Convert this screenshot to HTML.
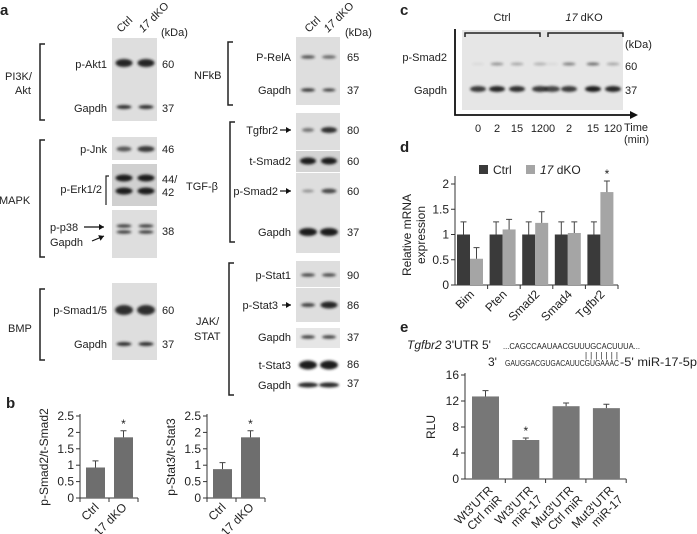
<!DOCTYPE html>
<html><head><meta charset="utf-8"><style>
html,body{margin:0;padding:0;background:#fff;}
svg{display:block;font-family:"Liberation Sans",sans-serif;}
text{fill:#222;}
</style></head><body>
<svg id="fig" width="697" height="534" viewBox="0 0 697 534">
<defs><filter id="bl" x="-20%" y="-80%" width="140%" height="260%"><feGaussianBlur stdDeviation="1.3"/></filter></defs>
<g id="blots"></g>
<g id="charts"></g>
</svg>
<script>
// Panel b data
const bCats = ["Ctrl", "17 dKO"];
const bSmadVals = [0.93, 1.85];
const bSmadErr = [0.2, 0.2];
const bStatVals = [0.88, 1.85];
const bStatErr = [0.2, 0.2];
const bTicks = [0, 0.5, 1, 1.5, 2, 2.5];
const bTickLabels = ["0", "0.5", "1", "1.5", "2", "2.5"];
// Panel d data
const dCats = ["Bim", "Pten", "Smad2", "Smad4", "Tgfbr2"];
const dCtrl = [1, 1, 1, 1, 1];
const dCtrlErr = [0.25, 0.25, 0.25, 0.25, 0.25];
const dKO = [0.52, 1.1, 1.23, 1.03, 1.84];
const dKOErr = [0.22, 0.2, 0.22, 0.22, 0.22];
const dTicks = [0, 0.5, 1, 1.5, 2];
const dTickLabels = ["0", "0.5", "1", "1.5", "2"];
// Panel e data
const eCats = [["Wt3'UTR", "Ctrl miR"], ["Wt3'UTR", "miR-17"], ["Mut3'UTR", "Ctrl miR"], ["Mut3'UTR", "miR-17"]];
const eVals = [12.7, 6.0, 11.2, 10.9];
const eErr = [0.9, 0.3, 0.5, 0.6];
const eTicks = [0, 4, 8, 12, 16];
const eTickLabels = ["0", "4", "8", "12", "16"];

const NS = "http://www.w3.org/2000/svg";
function mk(parent, tag, attrs, txt) {
  const e = document.createElementNS(NS, tag);
  for (const k in attrs) e.setAttribute(k, attrs[k]);
  if (txt !== undefined) e.textContent = txt;
  parent.appendChild(e);
  return e;
}
const B = document.getElementById('blots');
const C = document.getElementById('charts');

function label(x, y, t, size, anchor, extra) {
  const e = mk(B, 'text', Object.assign({x: x, y: y, 'font-size': size || 11, 'text-anchor': anchor || 'start'}, extra || {}), t);
  
  
  return e;
}
function box(x, y, w, h, fill) {
  const e = mk(B, 'rect', {x: x, y: y, width: w, height: h, fill: fill || '#dedede'});
  
  
}
function band(cx, cy, w, h, op) {
  const e = mk(B, 'ellipse', {cx: cx, cy: cy, rx: w / 2, ry: h / 2, fill: '#1e1e1e', opacity: op, filter: 'url(#bl)'});
  
  
}
function bracket(x, y1, y2) {
  const e = mk(B, 'path', {d: `M${x + 5} ${y1} H${x} V${y2} H${x + 5}`, fill: 'none', stroke: '#222', 'stroke-width': 1.5});
  
  
}
function arrow(x1, y1, x2, y2) {
  const e = mk(B, 'line', {x1: x1, y1: y1, x2: x2, y2: y2, stroke: '#111', 'stroke-width': 1.2});
  
  
  const a = Math.atan2(y2 - y1, x2 - x1);
  const p = mk(B, 'polygon', {points: `${x2},${y2} ${x2 - 5 * Math.cos(a) + 3 * Math.sin(a)},${y2 - 5 * Math.sin(a) - 3 * Math.cos(a)} ${x2 - 5 * Math.cos(a) - 3 * Math.sin(a)},${y2 - 5 * Math.sin(a) + 3 * Math.cos(a)}`, fill: '#111'});
  
  
}

// Panel letters
[["a", 0, 15], ["b", 6, 408], ["c", 400, 15], ["d", 400, 152], ["e", 400, 332]].forEach(p => {
  label(p[1], p[2], p[0], 15, 'start', {'font-weight': 'bold'});
});

// ===== Panel a left column =====
const L1 = 124, L2 = 146;
label(121, 33, "Ctrl", 11, 'start', {transform: 'rotate(-45 121 33)'});
const h1 = label(143, 33, "", 11, 'start', {transform: 'rotate(-45 143 33)'});
mk(h1, 'tspan', {'font-style': 'italic'}, '17');
mk(h1, 'tspan', {}, ' dKO');
label(161, 36, "(kDa)", 11);
box(112, 38, 45, 83);
band(L1, 63, 17, 8, 0.95); band(L2, 63, 17, 8, 0.95);
band(L1, 107, 15, 4, 0.9); band(L2, 107, 15, 4, 0.9);
label(107, 68, "p-Akt1", 11, 'end'); label(162, 68, "60", 11);
label(107, 112, "Gapdh", 11, 'end'); label(162, 112, "37", 11);
bracket(40, 44, 120);
label(5, 80, "PI3K/", 11); label(15, 94, "Akt", 11);
box(112, 137, 45, 23);
band(L1, 149, 15, 5, 0.7); band(L2, 149, 17, 6, 0.85);
label(107, 153, "p-Jnk", 11, 'end'); label(162, 153, "46", 11);
box(112, 164, 45, 42, '#d0d0d0');
band(L1, 178, 17, 7, 1); band(L2, 178, 17, 7, 1);
band(L1, 191, 17, 7, 1); band(L2, 191, 17, 7, 1);
mk(B, 'path', {d: 'M109 176 H106 V205', fill: 'none', stroke: '#222', 'stroke-width': 1.2});
label(102, 193, "p-Erk1/2", 11, 'end'); label(162, 183, "44/", 11); label(162, 196, "42", 11);
box(112, 210, 45, 48);
band(L1, 226, 15, 3.5, 0.8); band(L2, 226, 15, 3.5, 0.8);
band(L1, 232, 15, 3.5, 0.8); band(L2, 232, 15, 3.5, 0.8);
label(50, 231, "p-p38", 11); arrow(84, 227, 104, 227);
label(50, 246, "Gapdh", 11); arrow(92, 241, 104, 236);
label(162, 235, "38", 11);
bracket(40, 140, 257);
label(-1, 204, "MAPK", 11);
box(112, 283, 45, 77);
band(L1, 310, 18, 10, 0.9); band(L2, 310, 18, 10, 0.9);
band(L1, 344, 15, 4, 0.9); band(L2, 344, 15, 4, 0.9);
label(107, 314, "p-Smad1/5", 11, 'end'); label(162, 314, "60", 11);
label(107, 348, "Gapdh", 11, 'end'); label(162, 348, "37", 11);
bracket(40, 289, 360);
label(8, 332, "BMP", 11);

// ===== Panel a right column =====
const R1 = 308, R2 = 329;
label(309, 33, "Ctrl", 11, 'start', {transform: 'rotate(-45 309 33)'});
const h2 = label(328, 33, "", 11, 'start', {transform: 'rotate(-45 328 33)'});
mk(h2, 'tspan', {'font-style': 'italic'}, '17');
mk(h2, 'tspan', {}, ' dKO');
label(345, 36, "(kDa)", 11);
box(296, 37, 44, 68);
band(R1, 57, 14, 3.5, 0.7); band(R2, 57, 14, 3.5, 0.6);
band(R1, 90, 14, 3.5, 0.85); band(R2, 90, 13, 3, 0.85);
label(291, 61, "P-RelA", 11, 'end'); label(347, 61, "65", 11);
label(291, 94, "Gapdh", 11, 'end'); label(347, 94, "37", 11);
bracket(228, 42, 105);
label(194, 79, "NFkB", 11);
box(296, 113, 44, 37);
band(R1, 130, 12, 4, 0.55); band(R2, 130, 16, 6, 0.9);
label(278, 134, "Tgfbr2", 11, 'end'); arrow(280, 130, 291, 130);
label(347, 134, "80", 11);
box(296, 151, 44, 21, '#d4d4d4');
band(R1, 161, 16, 7, 1); band(R2, 161, 16, 7, 1);
label(291, 165, "t-Smad2", 11, 'end'); label(347, 165, "60", 11);
box(296, 173, 44, 80);
band(R1, 191, 12, 3, 0.4); band(R2, 191, 15, 4.5, 0.8);
label(278, 195, "p-Smad2", 11, 'end'); arrow(280, 191, 291, 191);
label(347, 195, "60", 11);
band(R1, 232, 18, 8, 1); band(R2, 232, 18, 8, 1);
label(291, 236, "Gapdh", 11, 'end'); label(347, 236, "37", 11);
bracket(230, 122, 242);
label(186, 190, "TGF-β", 11);
box(296, 261, 44, 26);
band(R1, 275, 14, 3.5, 0.75); band(R2, 275, 14, 3.5, 0.75);
label(291, 279, "p-Stat1", 11, 'end'); label(347, 279, "90", 11);
box(296, 288, 44, 34);
band(R1, 305, 14, 4, 0.8); band(R2, 305, 17, 7, 0.95);
label(278, 309, "p-Stat3", 11, 'end'); arrow(282, 305, 291, 305);
label(347, 309, "86", 11);
box(296, 328, 44, 20, '#e6e6e6');
band(R1, 337, 14, 3.5, 0.8); band(R2, 337, 14, 3.5, 0.8);
label(291, 341, "Gapdh", 11, 'end'); label(347, 341, "37", 11);
band(R1, 365, 18, 9, 1); band(R2, 365, 18, 9, 1);
label(291, 369, "t-Stat3", 11, 'end'); label(347, 368, "86", 11);
band(R1, 385, 20, 5, 0.95); band(R2, 385, 20, 5, 0.95);
label(291, 389, "Gapdh", 11, 'end'); label(347, 387, "37", 11);
bracket(229, 263, 395);
label(196, 325, "JAK/", 11); label(194, 340, "STAT", 11);

// ===== Panel c =====
const cLanes = [478, 497, 517, 540, 552, 569, 593, 613];
const cTimes = ["0", "2", "15", "120", "0", "2", "15", "120"];
const c60 = [0.05, 0.4, 0.3, 0.25, 0.05, 0.5, 0.6, 0.3];
const c37 = [0.85, 0.95, 0.9, 0.85, 0.8, 0.85, 1, 0.95];
box(462, 30, 161, 80, '#e6e6e6');
label(502, 21, "Ctrl", 11, 'middle');
const h3 = label(584, 21, "", 11, 'middle');
mk(h3, 'tspan', {'font-style': 'italic'}, '17');
mk(h3, 'tspan', {}, ' dKO');
mk(B, 'path', {d: 'M465 37 V33 H540 V37 M548 37 V33 H623 V37', fill: 'none', stroke: '#222', 'stroke-width': 1.5});
cLanes.forEach((x, i) => {
  band(x, 64, 13, 3, c60[i]);
  band(x, 89, 16, 6, c37[i]);
  label(x, 132, cTimes[i], 11, 'middle');
});
mk(B, 'path', {d: 'M455 29 V115 H632', fill: 'none', stroke: '#111', 'stroke-width': 1.8});
mk(B, 'polygon', {points: '638,115 630,111 630,119', fill: '#111'});
label(447, 61, "p-Smad2", 11, 'end');
label(447, 94, "Gapdh", 11, 'end');
label(625, 48, "(kDa)", 11); label(625, 70, "60", 11); label(625, 94, "37", 11);
label(624, 131, "Time", 11); label(624, 143, "(min)", 11);

// ===== bar chart helper =====
function axisY(x0, y0, yTop, vmax, ticks, labels, size) {
  const sc = v => y0 - (v / vmax) * (y0 - yTop);
  const ax = mk(C, 'line', {x1: x0, y1: y0, x2: x0, y2: yTop - 2, stroke: '#333', 'stroke-width': 1});
  
  
  ticks.forEach((t, i) => {
    mk(C, 'line', {x1: x0 - 4, x2: x0, y1: sc(t), y2: sc(t), stroke: '#333'});
    const tl = mk(C, 'text', {x: x0 - 6, y: sc(t) + 4, 'font-size': size || 12, 'text-anchor': 'end'}, labels[i]);
    
    
  });
  return sc;
}
function bar(x, w, y0, sc, v, err, fill) {
  const r = mk(C, 'rect', {x: x, y: sc(v), width: w, height: y0 - sc(v), fill: fill});
  
  
  const cx = x + w / 2;
  mk(C, 'path', {d: `M${cx} ${sc(v)} V${sc(v + err)} M${cx - 3} ${sc(v + err)} H${cx + 3}`, stroke: '#444', 'stroke-width': 1, fill: 'none'});
  return cx;
}
function star(x, y) {
  const s = mk(C, 'text', {x: x, y: y, 'font-size': 12, 'text-anchor': 'middle'}, '*');
  
  
}

// ===== Panel b =====
function bChart(x0, vals, errs, ylab) {
  const y0 = 498, yTop = 416;
  const sc = axisY(x0, y0, yTop, 2.5, bTicks, bTickLabels, 12);
  mk(C, 'line', {x1: x0, x2: x0 + 58, y1: y0, y2: y0, stroke: '#333'});
  [0, 29, 58].forEach(d => mk(C, 'line', {x1: x0 + d, x2: x0 + d, y1: y0, y2: y0 + 4, stroke: '#333'}));
  vals.forEach((v, i) => {
    const cx = bar(x0 + 6 + i * 28, 19, y0, sc, v, errs[i], '#6e6e6e');
    if (i === 1) star(cx, sc(v + errs[i]) - 3);
    const t = mk(C, 'text', {x: cx + 4, y: y0 + 10, 'font-size': 12, 'text-anchor': 'end', transform: `rotate(-45 ${cx + 4} ${y0 + 10})`}, bCats[i]);
    
    
  });
  const yl = mk(C, 'text', {x: x0 - 32, y: 457, 'font-size': 12, 'text-anchor': 'middle', transform: `rotate(-90 ${x0 - 32} 457)`}, ylab);
  
  
}
bChart(80, bSmadVals, bSmadErr, "p-Smad2/t-Smad2");
bChart(207, bStatVals, bStatErr, "p-Stat3/t-Stat3");

// ===== Panel d =====
(function () {
  const x0 = 455, y0 = 285, yTop = 184;
  const sc = v => y0 - (v / 2) * (y0 - yTop);
  const ax = mk(C, 'line', {x1: x0, y1: y0, x2: x0, y2: yTop - 8, stroke: '#333'});
  
  
  dTicks.forEach((t, i) => {
    mk(C, 'line', {x1: x0 - 4, x2: x0, y1: sc(t), y2: sc(t), stroke: '#333'});
    const tl = mk(C, 'text', {x: x0 - 6, y: sc(t) + 4, 'font-size': 12, 'text-anchor': 'end'}, dTickLabels[i]);
    
    
  });
  const gw = 32.6;
  mk(C, 'line', {x1: x0, x2: x0 + gw * 5, y1: y0, y2: y0, stroke: '#333'});
  dCats.forEach((c, i) => {
    mk(C, 'line', {x1: x0 + gw * (i + 1), x2: x0 + gw * (i + 1), y1: y0, y2: y0 + 4, stroke: '#333'});
    bar(x0 + gw * i + 2, 13, y0, sc, dCtrl[i], dCtrlErr[i], '#3a3a3a');
    const cx = bar(x0 + gw * i + 15, 13, y0, sc, dKO[i], dKOErr[i], '#a5a5a5');
    if (i === 4) star(cx, sc(dKO[i] + dKOErr[i]) - 3);
    const mx = x0 + gw * i + 20;
    const t = mk(C, 'text', {x: mx, y: y0 + 10, 'font-size': 12, 'text-anchor': 'end', transform: `rotate(-45 ${mx} ${y0 + 10})`}, c);
    
    
  });
  const yl = mk(C, 'text', {x: 413, y: 235, 'font-size': 12, 'text-anchor': 'middle', transform: 'rotate(-90 413 235)'});
  
  
  mk(yl, 'tspan', {x: 413, dy: -2}, 'Relative mRNA');
  mk(yl, 'tspan', {x: 413, dy: 14}, 'expression');
  const l1 = mk(C, 'rect', {x: 479, y: 165, width: 9, height: 9, fill: '#3a3a3a'});
  
  
  mk(C, 'text', {x: 493, y: 174, 'font-size': 12}, 'Ctrl');
  const l2 = mk(C, 'rect', {x: 526, y: 165, width: 9, height: 9, fill: '#a5a5a5'});
  
  
  const lt = mk(C, 'text', {x: 540, y: 174, 'font-size': 12});
  mk(lt, 'tspan', {'font-style': 'italic'}, '17');
  mk(lt, 'tspan', {}, ' dKO');
})();

// ===== Panel e =====
(function () {
  const t1 = mk(C, 'text', {x: 407, y: 349, 'font-size': 12});
  mk(t1, 'tspan', {'font-style': 'italic'}, 'Tgfbr2');
  mk(t1, 'tspan', {}, " 3'UTR 5'");
  mk(C, 'text', {x: 503, y: 349, 'font-size': 8.5, textLength: 137, lengthAdjust: 'spacingAndGlyphs'}, '...CAGCCAAUAACGUUUGCACUUUA...');
  mk(C, 'text', {x: 585, y: 358, 'font-size': 8, textLength: 33, lengthAdjust: 'spacing'}, '|||||||');
  mk(C, 'text', {x: 488, y: 366, 'font-size': 12}, "3'");
  mk(C, 'text', {x: 505, y: 366, 'font-size': 8.5, textLength: 114, lengthAdjust: 'spacingAndGlyphs'}, 'GAUGGACGUGACAUUCGUGAAAC');
  mk(C, 'text', {x: 620, y: 366, 'font-size': 12, textLength: 77, lengthAdjust: 'spacingAndGlyphs'}, "-5' miR-17-5p");
  const x0 = 465, y0 = 479;
  const sc = axisY(x0, y0, 375, 16, eTicks, eTickLabels, 12);
  const gw = 40.3;
  mk(C, 'line', {x1: x0, x2: x0 + gw * 4, y1: y0, y2: y0, stroke: '#333'});
  const yl = mk(C, 'text', {x: 435, y: 427, 'font-size': 12, 'text-anchor': 'middle', transform: 'rotate(-90 435 427)'}, 'RLU');
  
  
  eVals.forEach((v, i) => {
    mk(C, 'line', {x1: x0 + gw * (i + 1), x2: x0 + gw * (i + 1), y1: y0, y2: y0 + 4, stroke: '#333'});
    const cx = bar(x0 + gw * i + 7, 27, y0, sc, v, eErr[i], '#777777');
    if (i === 1) star(cx, sc(v + eErr[i]) - 3);
    const t = mk(C, 'text', {x: cx + 8, y: y0 + 12, 'font-size': 12, 'text-anchor': 'end', transform: `rotate(-45 ${cx + 8} ${y0 + 12})`});
    
    
    mk(t, 'tspan', {x: cx + 8, dy: 0}, eCats[i][0]);
    mk(t, 'tspan', {x: cx + 8, dy: 13}, eCats[i][1]);
  });
})();
</script>
</body></html>
